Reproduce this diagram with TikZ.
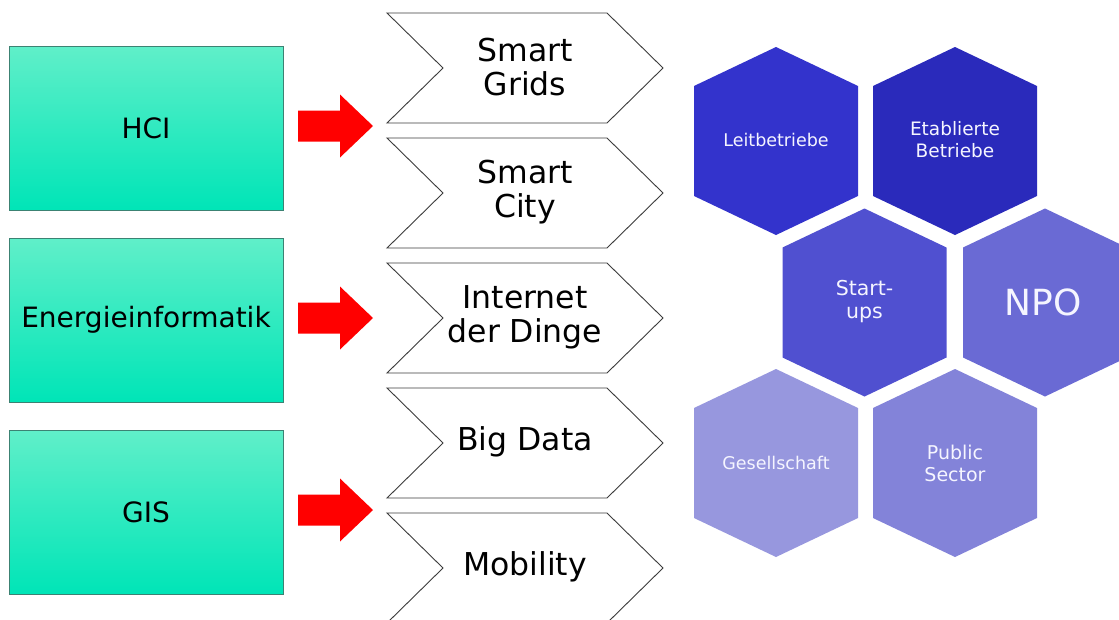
\documentclass[tikz,border=0pt]{standalone}
\usepackage{fontspec}
\setmainfont{DejaVu Sans}
\definecolor{boxtop}{RGB}{96,239,201}
\definecolor{boxmid}{RGB}{72,224,190}
\definecolor{boxbot}{RGB}{0,229,183}
\definecolor{boxline}{RGB}{60,130,115}
\definecolor{chevline}{RGB}{60,60,60}
\definecolor{hexA}{RGB}{51,51,204}
\definecolor{hexB}{RGB}{42,42,187}
\definecolor{hexC}{RGB}{80,80,208}
\definecolor{hexD}{RGB}{106,106,212}
\definecolor{hexE}{RGB}{151,151,222}
\definecolor{hexF}{RGB}{131,131,217}
\definecolor{hextext}{RGB}{245,245,255}
\tikzset{
  leftbox/.style={draw=boxline, line width=0.8pt, top color=boxtop, middle color=boxmid, bottom color=boxbot,
    minimum width=274pt, minimum height=164pt, inner sep=0pt, font=\fontsize{28}{30}\selectfont},
  chevbox/.style={draw=chevline, line width=0.9pt, fill=white},
  chevtext/.style={align=center, inner sep=0pt, font=\fontsize{31.5}{34}\selectfont},
  redarrow/.style={fill=red, draw=none},
  hextxt/.style={align=center, inner sep=0pt, text=hextext},
}
\newcommand{\chevpath}[1]{(387,#1) -- (607,#1) -- (663,#1+55) -- (607,#1+110) -- (387,#1+110) -- (443,#1+55) -- cycle}
\newcommand{\hexpath}[2]{(#1,#2-94) -- (#1+82,#2-55) -- (#1+82,#2+55) -- (#1,#2+94) -- (#1-82,#2+55) -- (#1-82,#2-55) -- cycle}
\newcommand{\arrowpath}[1]{(298,#1-15.5) -- (340,#1-15.5) -- (340,#1-31.5) -- (373,#1) -- (340,#1+31.5) -- (340,#1+15.5) -- (298,#1+15.5) -- cycle}
\begin{document}
\begin{tikzpicture}[x=1pt,y=-1pt]
\clip (0,0) rectangle (1119,619);
\fill[white] (0,0) rectangle (1119,619);

% left boxes
\node[leftbox] (hci) at (146,128) {HCI};
\node[leftbox] (ener) at (146,320) {Energieinformatik};
\node[leftbox] (gis) at (146,512) {GIS};

% red block arrows
\fill[redarrow] \arrowpath{126};
\fill[redarrow] \arrowpath{318};
\fill[redarrow] \arrowpath{510};

% chevrons
\draw[chevbox] \chevpath{13};
\node[chevtext] (grids) at (525,67) {Smart\\Grids};
\draw[chevbox] \chevpath{138};
\node[chevtext] (city) at (525,192) {Smart\\City};
\draw[chevbox] \chevpath{263};
\node[chevtext] (iot) at (525,317) {Internet\\der Dinge};
\draw[chevbox] \chevpath{388};
\node[chevtext] (bigdata) at (525,442) {Big Data};
\draw[chevbox] \chevpath{513};
\node[chevtext] (mobility) at (525,567) {Mobility};

% hexagons
\fill[hexA] \hexpath{776}{141};
\node[hextxt, font=\fontsize{17.5}{21}\selectfont] (leit) at (776,140) {Leitbetriebe};
\fill[hexB] \hexpath{955}{141};
\node[hextxt, font=\fontsize{18.5}{22}\selectfont] (etab) at (955,140) {Etablierte\\Betriebe};
\fill[hexC] \hexpath{864.5}{302.5};
\node[hextxt, font=\fontsize{20.5}{23}\selectfont] (start) at (864.5,302) {Start-\\ups};
\fill[hexD] \hexpath{1045}{302.5};
\node[hextxt, font=\fontsize{36}{40}\selectfont] (npo) at (1043,302) {NPO};
\fill[hexE] \hexpath{776}{463};
\node[hextxt, font=\fontsize{17.5}{21}\selectfont] (ges) at (776,463) {Gesellschaft};
\fill[hexF] \hexpath{955}{463};
\node[hextxt, font=\fontsize{19}{22}\selectfont] (pub) at (955,463) {Public\\Sector};
\end{tikzpicture}
\end{document}
